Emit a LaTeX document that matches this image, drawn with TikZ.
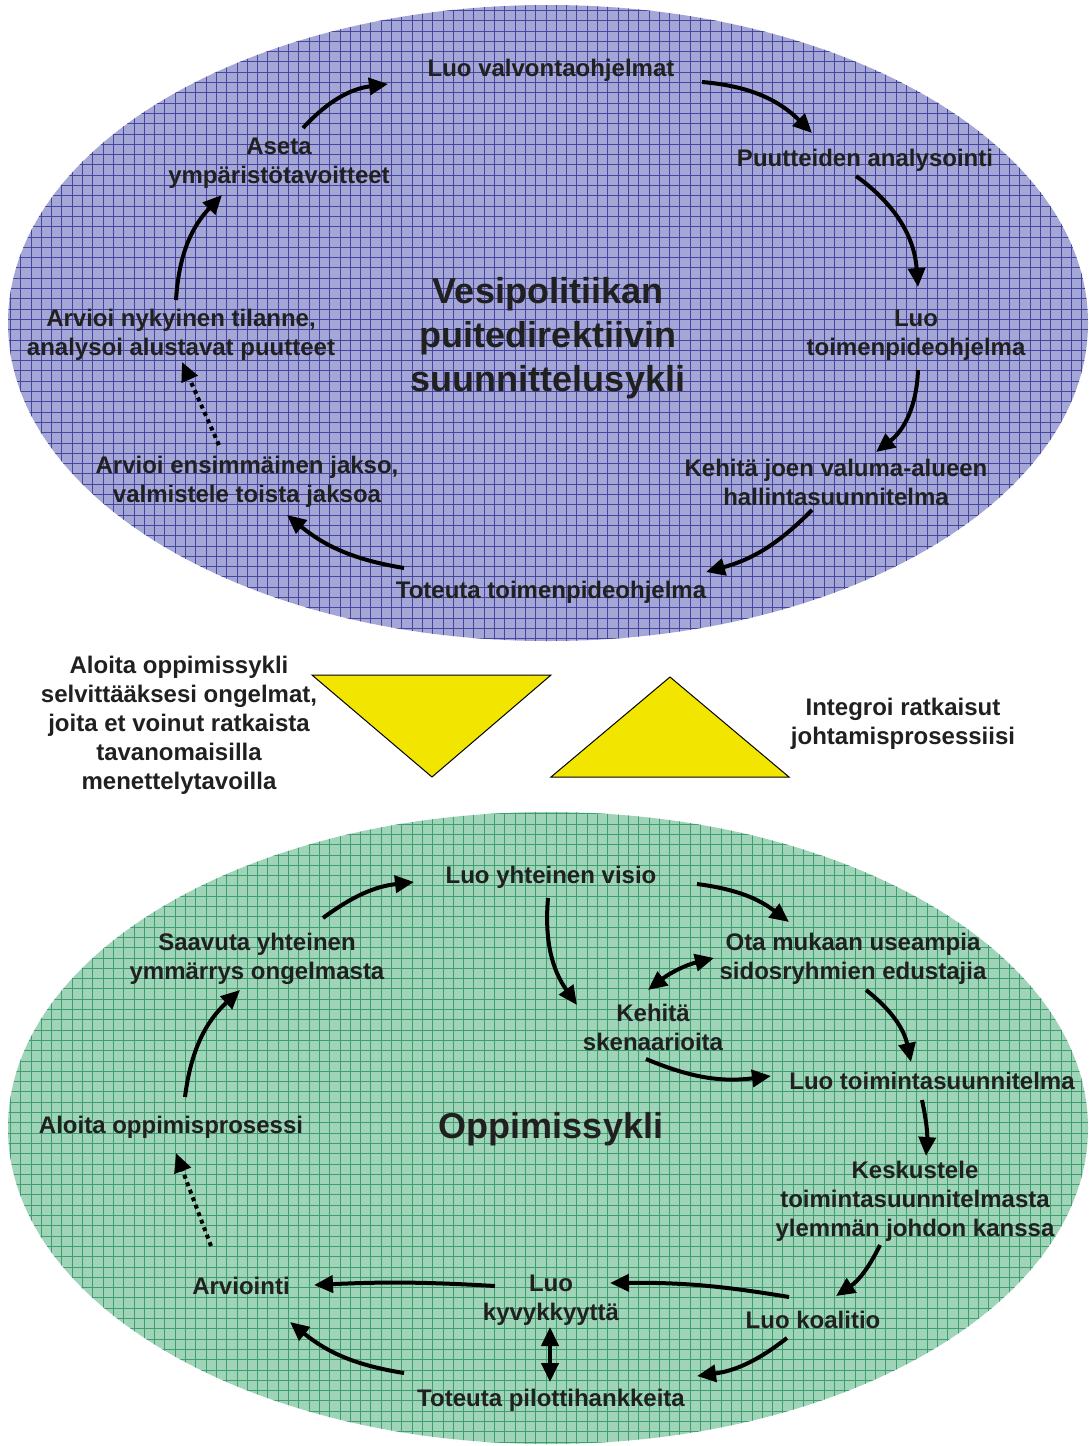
\documentclass[tikz,border=0pt]{standalone}
\usepackage{fontspec}
\setmainfont{Liberation Sans}
\usetikzlibrary{arrows.meta}
\definecolor{blueFill}{RGB}{164,166,214}
\definecolor{blueLine}{RGB}{70,70,160}
\definecolor{greenFill}{RGB}{160,212,184}
\definecolor{greenLine}{RGB}{62,158,112}
\definecolor{triY}{RGB}{242,230,0}
\definecolor{txt}{RGB}{32,32,32}
\begin{document}
\begin{tikzpicture}[x=1pt,y=-1pt,
 lbl/.style={text=txt, font=\bfseries\fontsize{24}{29}\selectfont, align=center, inner sep=0pt, yshift=-2pt},
 ttl/.style={text=txt, font=\bfseries\fontsize{36}{44}\selectfont, align=center, inner sep=0pt, yshift=-2pt},
 arr/.style={line width=4pt, -{Triangle[length=19pt,width=17pt]}},
 darr/.style={line width=4pt, {Triangle[length=19pt,width=17pt]}-{Triangle[length=19pt,width=17pt]}},
 dotarr/.style={line width=4pt, dash pattern=on 4pt off 4pt, -{Triangle[length=19pt,width=17pt]}},
 gridline/.style={line width=0.7pt},
 tri/.style={fill=triY, draw=black, line width=1pt, line join=miter}
 ]
\useasboundingbox (0,0) rectangle (1088,1446);

% ---------- top ellipse ----------
\begin{scope}
  \fill[blueFill] (548,323) ellipse [x radius=540pt, y radius=318pt];
  \clip (548,323) ellipse [x radius=540pt, y radius=318pt];
  \draw[blueLine, gridline, step=10.3pt] (0,0) grid (1088,650);
\end{scope}

% ---------- bottom ellipse ----------
\begin{scope}
  \fill[greenFill] (548,1128) ellipse [x radius=540pt, y radius=316pt];
  \clip (548,1128) ellipse [x radius=540pt, y radius=316pt];
  \draw[greenLine, gridline, step=10.3pt] (0,800) grid (1088,1446);
\end{scope}

% ---------- top labels ----------
\node[ttl] (ttop) at (548,336) {Vesipolitiikan\\puitedirektiivin\\suunnittelusykli};
\node[lbl] (luoval) at (551,68) {Luo valvontaohjelmat};
\node[lbl] (puut) at (865,158) {Puutteiden analysointi};
\node[lbl] (luotoim) at (916,333) {Luo\\toimenpideohjelma};
\node[lbl] (kehita) at (836,480) {Kehitä joen valuma-alueen\\hallintasuunnitelma};
\node[lbl] (toteuta) at (551,590) {Toteuta toimenpideohjelma};
\node[lbl] (arvens) at (247,480) {Arvioi ensimmäinen jakso,\\valmistele toista jaksoa};
\node[lbl] (arvnyk) at (181,333) {Arvioi nykyinen tilanne,\\analysoi alustavat puutteet};
\node[lbl] (aseta) at (279,161) {Aseta\\ympäristötavoitteet};

% ---------- top connectors ----------
\coordinate (t1s) at (303,128); \coordinate (t1e) at (388,84);
\coordinate (t2s) at (702,82);  \coordinate (t2e) at (812,133);
\coordinate (t3s) at (856,176); \coordinate (t3e) at (918,287);
\coordinate (t4s) at (918,370); \coordinate (t4e) at (876,452);
\coordinate (t5s) at (812,510); \coordinate (t5e) at (706,572);
\coordinate (t6s) at (404,568); \coordinate (t6e) at (287,515);
\coordinate (t7s) at (219,445); \coordinate (t7e) at (182,362);
\coordinate (t8s) at (176,300); \coordinate (t8e) at (222,195);
\draw[arr] (t1s) to[bend left=20] (t1e);
\draw[arr] (t2s) to[bend left=20] (t2e);
\draw[arr] (t3s) to[bend left=25] (t3e);
\draw[arr] (t4s) to[bend left=25] (t4e);
\draw[arr] (t5s) to[bend left=15] (t5e);
\draw[arr] (t6s) to[bend left=15] (t6e);
\draw[dotarr] (t7s) -- (t7e);
\draw[arr] (t8s) to[bend left=20] (t8e);

% ---------- middle ----------
\node[lbl] (aloita) at (179,723) {Aloita oppimissykli\\selvittääksesi ongelmat,\\joita et voinut ratkaista\\tavanomaisilla\\menettelytavoilla};
\node[lbl] (integroi) at (903,722) {Integroi ratkaisut\\johtamisprosessiisi};
\draw[tri] (312,675) -- (551,675) -- (432,777) -- cycle;
\draw[tri] (670,677) -- (789,777) -- (551,777) -- cycle;

% ---------- bottom labels ----------
\node[ttl] (tbot) at (551,1127) {Oppimissykli};
\node[lbl] (visio) at (551,875) {Luo yhteinen visio};
\node[lbl] (ota) at (853,957) {Ota mukaan useampia\\sidosryhmien edustajia};
\node[lbl] (skena) at (653,1025) {Kehitä\\skenaarioita};
\node[lbl] (toimsuun) at (932,1079) {Luo toimintasuunnitelma};
\node[lbl] (kesk) at (915,1199) {Keskustele\\toimintasuunnitelmasta\\ylemmän johdon kanssa};
\node[lbl] (koal) at (813,1318) {Luo koalitio};
\node[lbl] (kyvy) at (551,1298) {Luo\\kyvykkyyttä};
\node[lbl] (pilot) at (551,1398) {Toteuta pilottihankkeita};
\node[lbl] (arvi) at (241,1284) {Arviointi};
\node[lbl] (alopp) at (171,1125) {Aloita oppimisprosessi};
\node[lbl] (saav) at (257,957) {Saavuta yhteinen\\ymmärrys ongelmasta};

% ---------- bottom connectors ----------
\coordinate (b1s) at (323,918);  \coordinate (b1e) at (414,882);
\coordinate (b2s) at (697,884);  \coordinate (b2e) at (789,922);
\coordinate (b3s) at (548,898);  \coordinate (b3e) at (577,1005);
\coordinate (b4s) at (648,990);  \coordinate (b4e) at (714,958);
\coordinate (b5s) at (646,1059); \coordinate (b5e) at (771,1076);
\coordinate (b6s) at (866,990);  \coordinate (b6e) at (911,1062);
\coordinate (b7s) at (922,1100); \coordinate (b7e) at (926,1156);
\coordinate (b8s) at (880,1245); \coordinate (b8e) at (836,1296);
\coordinate (b9s) at (789,1297); \coordinate (b9e) at (610,1283);
\coordinate (b10s) at (495,1286); \coordinate (b10e) at (314,1285);
\coordinate (b11s) at (787,1338); \coordinate (b11e) at (697,1376);
\coordinate (b12s) at (404,1373); \coordinate (b12e) at (290,1322);
\coordinate (b13s) at (550,1327); \coordinate (b13e) at (550,1382);
\coordinate (b14s) at (211,1246); \coordinate (b14e) at (176,1153);
\coordinate (b15s) at (185,1097); \coordinate (b15e) at (240,990);
\draw[arr] (b1s) to[bend left=15] (b1e);
\draw[arr] (b2s) to[bend left=15] (b2e);
\draw[arr] (b3s) to[bend right=20] (b3e);
\draw[darr] (b4s) to[bend left=12] (b4e);
\draw[arr] (b5s) to[bend right=15] (b5e);
\draw[arr] (b6s) to[bend left=20] (b6e);
\draw[arr] (b7s) to[bend left=8] (b7e);
\draw[arr] (b8s) to[bend left=15] (b8e);
\draw[arr] (b9s) to[bend right=5] (b9e);
\draw[arr] (b10s) to[bend right=3] (b10e);
\draw[arr] (b11s) to[bend left=15] (b11e);
\draw[arr] (b12s) to[bend left=15] (b12e);
\draw[darr] (b13s) -- (b13e);
\draw[dotarr] (b14s) -- (b14e);
\draw[arr] (b15s) to[bend left=20] (b15e);
\end{tikzpicture}
\end{document}
